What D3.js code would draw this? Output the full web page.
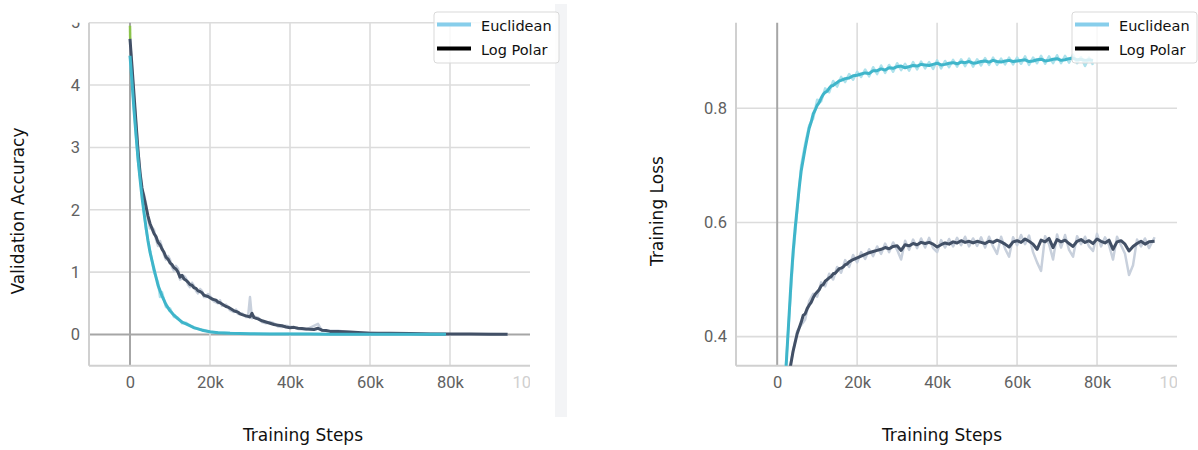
<!DOCTYPE html>
<html>
<head>
<meta charset="utf-8">
<script src="https://cdn.jsdelivr.net/npm/d3@7"></script>
<style>
  body { margin: 0; background: #fff; }
  svg { display: block; }
  .tick text { font-family: Roboto, sans-serif; font-size: 16.5px; fill: #616161; }
  .titre { font-family: "DejaVu Sans", sans-serif; font-size: 17px; fill: #111; }
  .leg { font-family: "DejaVu Sans", sans-serif; font-size: 14.5px; fill: #111; }
</style>
</head>
<body>
<svg width="1198" height="450"></svg>
<script>
// --- donnees : [pas (milliers), valeur] ---
// graphe de gauche (Validation Accuracy)
const euclidL = [[0,4.47],[0.5,4.05],[1,3.6],[1.5,3.2],[2,2.82],[2.5,2.5],[3,2.2],[3.5,1.95],[4,1.72],[4.5,1.5],[5,1.32],
  [6,1.05],[7,0.79],[8,0.62],[9,0.48],[10,0.38],[11,0.31],[12,0.25],[13,0.2],[14,0.17],[16,0.11],[18,0.07],[20,0.045],
  [22,0.03],[25,0.02],[30,0.012],[35,0.01],[40,0.008],[45,0.007],[50,0.006],[55,0.005],[60,0.005],[65,0.004],[70,0.004],[75,0.003],[79,0.003]];
const euclidRawL = [[0,4.47],[1,3.62],[2,2.78],[3,2.25],[4,1.68],[5,1.36],[6,1.0],[7,0.84],[7.5,0.6],[8,0.68],[9,0.44],[10,0.42],
  [11,0.28],[12,0.27],[13,0.18],[14,0.19],[16,0.1],[18,0.08],[20,0.04],[25,0.025],[30,0.01],[40,0.012],[50,0.004],[60,0.008],[70,0.002],[79,0.005]];
const logPolarL = [[0,4.74],[0.5,4.3],[1,3.85],[1.5,3.4],[2,2.95],[2.5,2.6],[3,2.35],[3.5,2.2],[4,2.05],[4.5,1.9],[5,1.78],
  [6,1.62],[6.5,1.57],[7,1.48],[7.5,1.44],[8,1.37],[8.5,1.32],[9,1.24],[9.5,1.21],[10,1.15],[10.5,1.12],[11,1.07],[11.5,1.05],
  [12,1.0],[12.5,0.92],[13,0.95],[13.5,0.89],[14,0.87],[14.5,0.84],[15,0.8],[15.5,0.79],[16,0.75],[16.5,0.74],[17,0.7],
  [17.5,0.69],[18,0.67],[18.5,0.63],[19,0.62],[19.5,0.61],[20,0.59],[20.5,0.57],[21,0.56],[21.5,0.55],[22,0.52],[22.5,0.51],
  [23,0.49],[23.5,0.47],[24,0.45],[24.5,0.44],[25,0.42],[25.5,0.4],[26,0.38],[26.5,0.37],[27,0.36],[27.5,0.33],[28,0.32],
  [29,0.3],[29.5,0.29],[30,0.28],[30.5,0.34],[31,0.27],[32,0.25],[33,0.22],[34,0.2],[35,0.18],[36,0.16],[37,0.15],[38,0.14],
  [39,0.12],[40,0.11],[41,0.115],[42,0.1],[43,0.095],[44,0.09],[45,0.085],[46,0.08],[47,0.1],[48,0.07],[49,0.065],[50,0.05],
  [52,0.05],[55,0.04],[58,0.03],[60,0.02],[65,0.02],[70,0.015],[75,0.01],[80,0.01],[85,0.008],[90,0.005],[94.4,0.005]];
const logPolarRawL = [[0,4.74],[1,3.8],[2,3.0],[3,2.3],[3.5,2.25],[4,2.1],[4.5,1.85],[5,1.7],[5.5,1.72],[6,1.68],[6.5,1.52],
  [7,1.42],[7.5,1.5],[8,1.4],[8.5,1.28],[9,1.2],[9.5,1.26],[10,1.2],[10.5,1.08],[11,1.02],[11.5,1.1],[12,1.06],[12.5,0.88],
  [13,0.9],[13.5,0.94],[14,0.9],[14.5,0.8],[15,0.76],[15.5,0.83],[16,0.78],[16.5,0.7],[17,0.66],[17.5,0.73],[18,0.7],
  [18.5,0.6],[19,0.6],[19.5,0.65],[20,0.62],[21,0.53],[22,0.5],[22.5,0.55],[23,0.46],[24,0.48],[25,0.39],[26,0.36],
  [26.5,0.4],[27,0.33],[28,0.34],[29,0.28],[29.5,0.28],[30,0.6],[30.5,0.26],[31,0.29],[32,0.27],[33,0.2],[34,0.18],
  [35,0.2],[36,0.18],[37,0.13],[38,0.12],[39,0.14],[40,0.13],[42,0.09],[44,0.08],[47,0.17],[48,0.06],[52,0.06],
  [56,0.03],[60,0.03],[65,0.01],[70,0.02],[80,0.005],[90,0.01],[94.4,0.003]];
const autreL = [[0,4.95],[0.05,4.74]];

// graphe de droite (Training Loss)
const euclidR = [[0,0.1],[1,0.2],[2,0.32],[2.5,0.38],[3,0.44],[3.5,0.5],[4,0.55],[4.5,0.59],[5,0.625],[5.5,0.66],[6,0.69],
  [7,0.73],[7.5,0.748],[8,0.765],[8.5,0.776],[9,0.79],[9.5,0.797],[10,0.805],[10.5,0.81],[11,0.818],[11.5,0.824],[12,0.828],
  [12.5,0.83],[13,0.835],[13.5,0.839],[14,0.84],[14.5,0.843],[15,0.845],[15.5,0.848],[16,0.849],[17,0.852],[18,0.853],
  [19,0.857],[20,0.858],[21,0.86],[22,0.862],[23,0.861],[24,0.866],[25,0.866],[26,0.869],[27,0.867],[28,0.871],[29,0.87],
  [30,0.873],[31,0.874],[32,0.871],[33,0.873],[34,0.875],[35,0.874],[36,0.877],[37,0.876],[38,0.875],[39,0.877],[40,0.879],
  [41,0.876],[42,0.877],[43,0.879],[44,0.88],[45,0.878],[46,0.881],[47,0.88],[48,0.882],[49,0.879],[50,0.88],[51,0.882],
  [52,0.883],[53,0.881],[54,0.884],[55,0.882],[56,0.881],[57,0.883],[58,0.884],[59,0.882],[60,0.883],[61,0.884],[62,0.885],
  [63,0.882],[64,0.883],[65,0.885],[66,0.886],[67,0.883],[68,0.884],[69,0.886],[70,0.887],[71,0.884],[72,0.885],[73,0.887],
  [74,0.888],[75,0.885],[76,0.886],[77,0.884],[78,0.885],[79,0.884]];
const euclidRawR = [[0,0.1],[2,0.33],[4,0.54],[6,0.7],[7,0.738],[8,0.77],[9,0.782],[10,0.815],[11,0.812],[12,0.835],[13,0.828],
  [14,0.848],[15,0.838],[16,0.855],[17,0.846],[18,0.86],[19,0.85],[20,0.864],[21,0.855],[22,0.868],[23,0.856],[24,0.872],
  [25,0.86],[26,0.875],[27,0.862],[28,0.876],[29,0.864],[30,0.879],[31,0.867],[32,0.878],[33,0.866],[34,0.881],[35,0.868],
  [36,0.882],[37,0.87],[38,0.881],[39,0.869],[40,0.884],[41,0.87],[42,0.883],[43,0.872],[44,0.885],[45,0.873],[46,0.886],
  [47,0.874],[48,0.887],[49,0.873],[50,0.886],[51,0.875],[52,0.888],[53,0.876],[54,0.889],[55,0.876],[56,0.887],[57,0.877],
  [58,0.889],[59,0.877],[60,0.889],[61,0.878],[62,0.891],[63,0.876],[64,0.889],[65,0.879],[66,0.892],[67,0.878],[68,0.891],
  [69,0.879],[70,0.893],[71,0.879],[72,0.892],[73,0.88],[74,0.894],[75,0.879],[76,0.89],[77,0.874],[78,0.889],[79,0.876]];
const logPolarR = [[0,0.2],[2,0.3],[3,0.335],[4,0.375],[5,0.405],[6,0.425],[6.5,0.437],[7,0.44],[7.5,0.449],[8,0.455],
  [8.5,0.46],[9,0.468],[9.5,0.474],[10,0.478],[10.5,0.482],[11,0.489],[11.5,0.491],[12,0.497],[12.5,0.5],[13,0.503],
  [13.5,0.505],[14,0.51],[14.5,0.511],[15,0.515],[15.5,0.519],[16,0.52],[16.5,0.522],[17,0.526],[17.5,0.527],[18,0.531],
  [19,0.535],[20,0.538],[21,0.541],[22,0.544],[23,0.547],[24,0.549],[25,0.551],[26,0.553],[27,0.556],[28,0.554],[29,0.558],
  [30,0.559],[31,0.551],[32,0.561],[33,0.559],[34,0.563],[35,0.561],[36,0.565],[37,0.563],[38,0.565],[39,0.562],[40,0.557],
  [41,0.561],[42,0.564],[43,0.562],[44,0.566],[45,0.564],[46,0.568],[47,0.565],[48,0.567],[49,0.564],[50,0.567],[51,0.565],
  [52,0.563],[53,0.567],[54,0.565],[55,0.569],[56,0.566],[57,0.562],[58,0.557],[59,0.566],[60,0.568],[61,0.565],[62,0.571],
  [63,0.567],[64,0.562],[65,0.553],[66,0.569],[67,0.566],[68,0.572],[69,0.556],[70,0.57],[71,0.566],[72,0.569],[73,0.563],
  [74,0.558],[75,0.567],[76,0.57],[77,0.565],[78,0.568],[79,0.563],[80,0.571],[81,0.567],[82,0.564],[83,0.569],[84,0.553],
  [85,0.566],[86,0.568],[87,0.562],[88,0.55],[89,0.558],[90,0.563],[91,0.567],[92,0.562],[93,0.566],[94.4,0.567]];
const logPolarRawR = [[0,0.2],[3,0.34],[5,0.41],[7,0.43],[8,0.462],[9,0.475],[10,0.47],[11,0.495],[12,0.488],[13,0.51],
  [14,0.5],[15,0.522],[16,0.512],[17,0.534],[18,0.522],[19,0.543],[20,0.53],[21,0.548],[22,0.536],[23,0.553],[24,0.541],
  [25,0.558],[26,0.545],[27,0.563],[28,0.548],[29,0.565],[30,0.552],[31,0.535],[32,0.568],[33,0.552],[34,0.57],[35,0.555],
  [36,0.572],[37,0.556],[38,0.573],[39,0.555],[40,0.548],[41,0.569],[42,0.556],[43,0.571],[44,0.558],[45,0.573],[46,0.56],
  [47,0.575],[48,0.558],[49,0.572],[50,0.559],[51,0.574],[52,0.556],[53,0.575],[54,0.558],[55,0.545],[56,0.575],[57,0.554],
  [58,0.54],[59,0.574],[60,0.56],[61,0.578],[62,0.562],[63,0.577],[64,0.548],[65,0.53],[66,0.515],[67,0.576],[68,0.562],
  [69,0.535],[70,0.579],[71,0.556],[72,0.578],[73,0.552],[74,0.54],[75,0.576],[76,0.562],[77,0.575],[78,0.558],[79,0.55],
  [80,0.58],[81,0.558],[82,0.574],[83,0.56],[84,0.535],[85,0.575],[86,0.56],[87,0.545],[88,0.508],[89,0.525],[90,0.57],
  [91,0.558],[92,0.572],[93,0.555],[94.4,0.574]];

const xTicks = [0, 20000, 40000, 60000, 80000, 100000];
const yTicksL = [0, 1, 2, 3, 4, 5];
const yTicksR = [0.4, 0.6, 0.8];

const cEuclid = "#3fb5ca", cEuclidRaw = "#aee2ec";
const cLog = "#425066", cLogRaw = "#c8d0dc";

const svg = d3.select("svg");

// bande grise de separation
svg.append("rect").attr("x", 555).attr("y", 4).attr("width", 12).attr("height", 413).attr("fill", "#f3f4f6");

function graphe(cfg)
{
  const x = d3.scaleLinear().domain(cfg.xDom).range([cfg.left, cfg.right]);
  const y = d3.scaleLinear().domain(cfg.yDom).range([365.7, 22.7]);
  const g = svg.append("g");
  const top = 22.7, bot = 365.7;

  // grille
  cfg.yTicks.forEach(v => {
    g.append("line").attr("x1", cfg.left).attr("x2", cfg.right).attr("y1", y(v)).attr("y2", y(v))
      .attr("stroke", v === 0 ? "#a6a6a6" : "#dcdcdc").attr("stroke-width", v === 0 ? 2 : 1.6);
  });
  xTicks.filter(v => v < 100000).forEach(v => {
    g.append("line").attr("x1", x(v)).attr("x2", x(v)).attr("y1", top).attr("y2", bot)
      .attr("stroke", v === 0 ? "#a6a6a6" : "#dcdcdc").attr("stroke-width", v === 0 ? 2 : 1.6);
  });
  g.append("line").attr("x1", cfg.left).attr("x2", cfg.left).attr("y1", top).attr("y2", bot)
    .attr("stroke", "#d0d0d0").attr("stroke-width", 2);
  g.append("line").attr("x1", cfg.left).attr("x2", cfg.right).attr("y1", bot).attr("y2", bot)
    .attr("stroke", "#d0d0d0").attr("stroke-width", 2);

  // axes (labels seulement)
  svg.append("clipPath").attr("id", "ax" + cfg.id).append("rect")
    .attr("x", cfg.left - 60).attr("y", top).attr("width", cfg.right - cfg.left + 60).attr("height", 400);
  const ax = svg.append("g").attr("clip-path", "url(#ax" + cfg.id + ")");
  ax.append("g").attr("transform", "translate(0," + bot + ")")
    .call(d3.axisBottom(x).tickValues(xTicks).tickSize(0).tickPadding(11)
      .tickFormat(d => d === 0 ? "0" : (d / 1000) + "k"))
    .call(a => a.select(".domain").remove())
    .call(a => a.selectAll(".tick text").filter(d => d === 100000).style("fill", "#d0d0d0"));
  ax.append("g").attr("transform", "translate(" + cfg.left + ",0)")
    .call(d3.axisLeft(y).tickValues(cfg.yTicks).tickSize(0).tickPadding(9).tickFormat(cfg.fmt))
    .call(a => a.select(".domain").remove());

  // courbes
  svg.append("clipPath").attr("id", "cp" + cfg.id).append("rect")
    .attr("x", cfg.left).attr("y", top - 4).attr("width", cfg.right - cfg.left).attr("height", bot - top + 4);
  const zone = svg.append("g").attr("clip-path", "url(#cp" + cfg.id + ")");
  const ligne = d3.line().x(d => x(d[0] * 1000)).y(d => y(d[1]));
  cfg.series.forEach(s => {
    zone.append("path").attr("d", ligne(s.data)).attr("fill", "none")
      .attr("stroke", s.col).attr("stroke-width", s.w).attr("stroke-linejoin", "round");
  });

  // titres
  svg.append("text").attr("class", "titre").attr("x", cfg.titleX).attr("y", 441)
    .attr("text-anchor", "middle").text("Training Steps");
  svg.append("text").attr("class", "titre").attr("text-anchor", "middle")
    .attr("transform", "translate(" + cfg.yTitleX + ",211) rotate(-90)").text(cfg.yTitle);

  // legende
  const lg = svg.append("g").attr("transform", "translate(" + cfg.legX + ",12)");
  lg.append("rect").attr("width", 125).attr("height", 51).attr("rx", 3)
    .attr("fill", "#fff").attr("fill-opacity", 0.8).attr("stroke", "#d9d9d9");
  [["Euclidean", "#87ceeb", 12.5, 19], ["Log Polar", "#000", 36.5, 42.5]].forEach(e => {
    lg.append("line").attr("x1", 3).attr("x2", 37).attr("y1", e[2]).attr("y2", e[2])
      .attr("stroke", e[1]).attr("stroke-width", 4);
    lg.append("text").attr("class", "leg").attr("x", 47).attr("y", e[3]).text(e[0]);
  });
}

graphe({
  id: "L", left: 89, right: 530, xDom: [-10250, 100000], yDom: [-0.5, 5],
  yTicks: yTicksL, fmt: d => d, titleX: 303, yTitleX: 24, yTitle: "Validation Accuracy", legX: 434,
  series: [
    {data: logPolarRawL, col: cLogRaw, w: 2.5},
    {data: euclidRawL, col: cEuclidRaw, w: 2.5},
    {data: autreL, col: "#8bc34a", w: 2.5},
    {data: logPolarL, col: cLog, w: 3},
    {data: euclidL, col: cEuclid, w: 3}
  ]
});

graphe({
  id: "R", left: 736, right: 1177, xDom: [-10300, 100000], yDom: [0.349, 0.95],
  yTicks: yTicksR, fmt: d3.format(".1f"), titleX: 942, yTitleX: 663, yTitle: "Training Loss", legX: 1072,
  series: [
    {data: logPolarRawR, col: cLogRaw, w: 2.5},
    {data: euclidRawR, col: cEuclidRaw, w: 2.5},
    {data: logPolarR, col: cLog, w: 3},
    {data: euclidR, col: cEuclid, w: 3}
  ]
});
</script>
</body>
</html>
